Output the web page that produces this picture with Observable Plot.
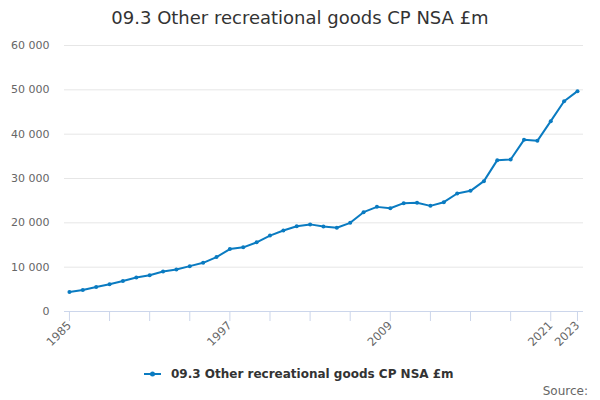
<!DOCTYPE html>
<html>
<head>
<meta charset="utf-8">
<script src="https://cdn.jsdelivr.net/npm/d3@7"></script>
<script src="https://cdn.jsdelivr.net/npm/@observablehq/plot@0.6"></script>
<style>
  html, body { margin: 0; padding: 0; background: #fff; }
  body { width: 600px; height: 400px; overflow: hidden; font-family: "DejaVu Sans", sans-serif; }
  #title { height: 36px; line-height: 36px; text-align: center; font-size: 18px; color: #333; }
  #legend { position: relative; height: 46px; }
  #legend .item { position: absolute; left: 144px; top: 13px; font-size: 12px; font-weight: bold; color: #333; display: flex; align-items: center; }
  #legend .source { position: absolute; right: 12px; top: 30px; font-size: 12px; color: #666; }
</style>
</head>
<body>
<div id="title">09.3 Other recreational goods CP NSA £m</div>
<div id="chart"></div>
<div id="legend">
  <div class="item"><svg width="22" height="10" style="margin-right:5px"><line x1="0" y1="5" x2="17" y2="5" stroke="#0a7bc1" stroke-width="2"/><circle cx="8.5" cy="5" r="2.5" fill="#0a7bc1"/></svg><span>09.3 Other recreational goods CP NSA £m</span></div>
  <div class="source">Source:</div>
</div>
<script>
const years = d3.range(1985, 2024);
const values = [
  4400, 4850, 5530, 6140, 6890, 7650, 8180, 9020, 9470, 10230,
  10980, 12270, 14090, 14470, 15600, 17120, 18260, 19240, 19650, 19170,
  18900, 20000, 22400, 23600, 23300, 24440, 24510, 23830, 24660, 26620,
  27220, 29400, 34140, 34290, 38720, 38500, 42930, 47440, 49700
];
const tickYears = [1985, 1988, 1991, 1994, 1997, 2000, 2003, 2006, 2009, 2012, 2015, 2018, 2021, 2023];
const labelYears = [1985, 1997, 2009, 2021, 2023];
const yTicks = [0, 10000, 20000, 30000, 40000, 50000, 60000];
const seriesName = "09.3 Other recreational goods CP NSA £m";

const data = years.map((year, i) => ({year, value: values[i]}));
const color = "#0a7bc1";
const fmt = v => d3.format(",")(v).replace(/,/g, " ");

const chart = Plot.plot({
  width: 600,
  height: 318,
  marginTop: 9,
  marginBottom: 43,
  marginLeft: 64,
  marginRight: 17,
  style: {fontFamily: "DejaVu Sans, sans-serif", fontSize: "11px", color: "#666", background: "#fff"},
  x: {domain: [1984.63, 2023.45], label: null},
  y: {domain: [0, 60000], label: null},
  marks: [
    Plot.ruleY(yTicks.filter(d => d > 0), {stroke: "#e6e6e6", strokeWidth: 1}),
    Plot.ruleY([0], {stroke: "#ccd6eb", strokeWidth: 1}),
    Plot.axisY({ticks: yTicks, tickSize: 0, tickPadding: 15, tickFormat: fmt, fill: "#666", fontSize: 11}),
    Plot.axisX({ticks: tickYears, tickSize: 10, tickPadding: 2, stroke: "#ccd6eb", fill: "#666", fontSize: 11.5,
      tickRotate: -45, tickFormat: d => labelYears.includes(d) ? String(d) : ""}),
    Plot.line(data, {x: "year", y: "value", stroke: color, strokeWidth: 2}),
    Plot.dot(data, {x: "year", y: "value", r: 2, fill: color, stroke: "none"})
  ]
});
document.getElementById("chart").appendChild(chart);
</script>
</body>
</html>
